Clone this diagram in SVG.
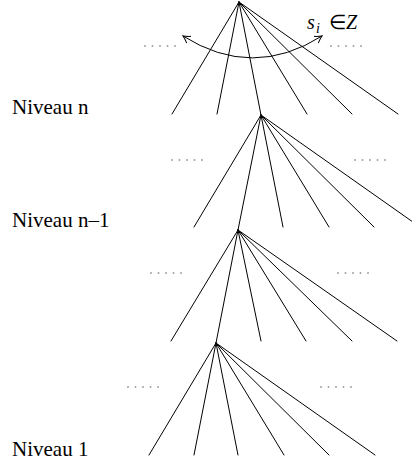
<svg xmlns="http://www.w3.org/2000/svg" width="412" height="464" viewBox="0 0 412 464">
<rect width="412" height="464" fill="#fff"/>
<text id="label-niveau-n" x="12" y="113.5" font-family="Liberation Serif" font-size="21">Niveau n</text>
<text id="label-niveau-n-1" x="12" y="226.5" font-family="Liberation Serif" font-size="21">Niveau n–1</text>
<text id="label-niveau-1" x="12" y="456" font-family="Liberation Serif" font-size="21">Niveau 1</text>
<text id="label-s" x="307" y="29" font-family="Liberation Serif" font-size="20" font-style="italic">s</text>
<text id="label-i" x="316" y="33" font-family="Liberation Serif" font-size="14" font-style="italic">i</text>
<text id="label-in" x="329" y="29" font-family="Liberation Serif" font-size="20">∈</text>
<text id="label-Z" x="346" y="29" font-family="Liberation Serif" font-size="20" font-style="italic">Z</text>
<defs>
<marker id="ah" viewBox="-8 -5 9 10" markerWidth="9" markerHeight="10" refX="0" refY="0" orient="auto-start-reverse" markerUnits="userSpaceOnUse">
<path d="M-7,-4 Q-2.5,-1 0,0 Q-2.5,1 -7,4" stroke="#000" stroke-width="1" fill="none"/>
</marker>
</defs>
<g id="connectors" stroke="#000" stroke-width="1" fill="none" stroke-linecap="round">
<g id="level-n">
<path d="M239,2L172,114M239,2L217,114M239,2L261,115M239,2L307,114M239,2L352,114M239,2L398,114"/>
</g>
<g id="level-n-1">
<path d="M261,115L194,227M261,115L238,230M261,115L283,227M261,115L329,227M261,115L374,227M261,115L420,227"/>
</g>
<g id="level-n-2">
<path d="M238,230L171,341M238,230L216,343M238,230L261,341M238,230L306,341M238,230L352,341M238,230L397,341"/>
</g>
<g id="level-1">
<path d="M216,343L149,455M216,343L194,455M216,343L238,455M216,343L284,455M216,343L329,455M216,343L375,455"/>
</g>
<g id="rotation-arrow">
<path d="M183,36Q252.5,80 322,36" marker-start="url(#ah)" marker-end="url(#ah)"/>
</g>
</g>
<g id="dots" stroke="#8a8a8a" stroke-width="1.6" stroke-dasharray="1.6 5.9" fill="none">
<path d="M144.2,46H177M330.2,46H363M171.2,160H204M354.2,160H387M150.2,273H183M337.2,273H370M127.2,387H160M320.2,387H353"/>
</g>
</svg>
